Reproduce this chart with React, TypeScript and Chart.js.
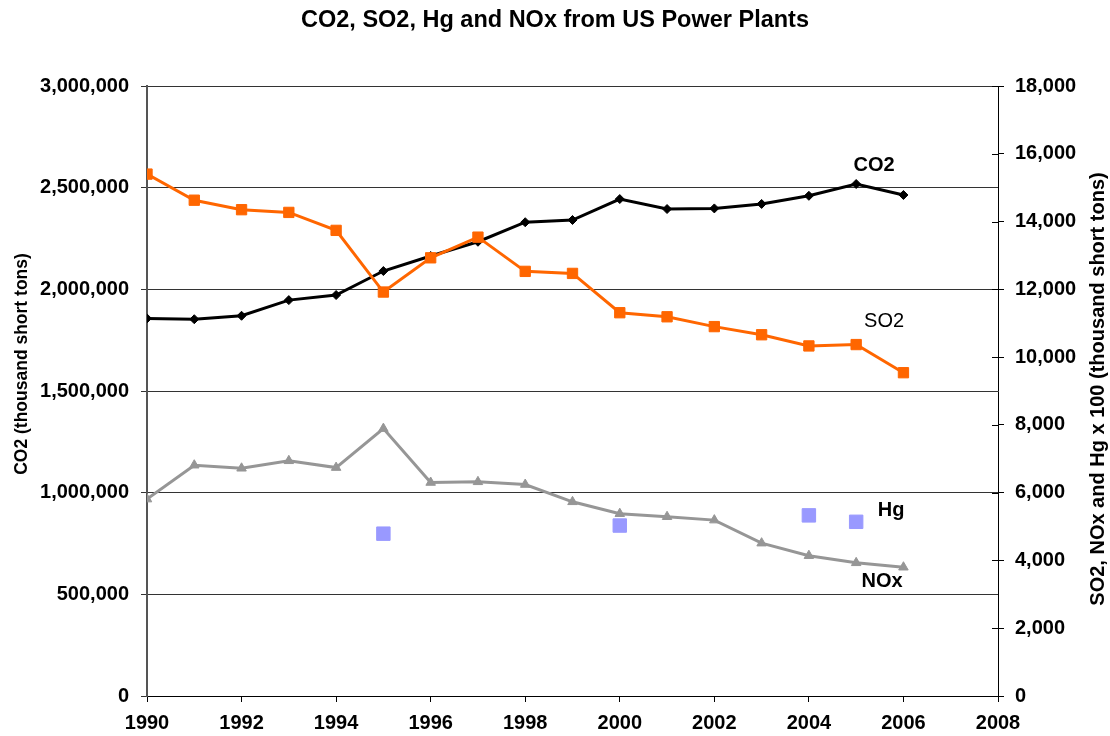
import { useEffect, useRef } from "react";
import { Chart, registerables } from "chart.js";

Chart.register(...registerables);

// ---- data ----
const years = [1990, 1991, 1992, 1993, 1994, 1995, 1996, 1997, 1998, 1999, 2000, 2001, 2002, 2003, 2004, 2005, 2006];
const co2 = [1857000, 1853000, 1870000, 1947000, 1972000, 2090000, 2164000, 2234000, 2330000, 2341000, 2444000, 2395000, 2398000, 2420000, 2460000, 2518000, 2464000];
const so2 = [15400, 14630, 14350, 14270, 13740, 11920, 12930, 13540, 12530, 12470, 11310, 11190, 10900, 10660, 10330, 10370, 9540];
const nox = [5810, 6810, 6720, 6940, 6740, 7890, 6300, 6320, 6240, 5730, 5380, 5290, 5190, 4510, 4140, 3930, 3800];
const hgYears = [1995, 2000, 2004, 2005];
const hg = [4790, 5030, 5330, 5140];

const chartTitle = "CO2, SO2, Hg and NOx from US Power Plants";
const leftTitle = "CO2 (thousand short tons)";
const rightTitle = "SO2, NOx and Hg x 100 (thousand short tons)";

// series labels placed in data units: [text, x, y, axis, bold]
const seriesLabels: [string, number, number, string, boolean][] = [
  ["CO2", 2005.38, 2611000, "y", true],
  ["SO2", 2005.59, 11040, "y1", false],
  ["Hg", 2005.74, 5480, "y1", true],
  ["NOx", 2005.55, 3370, "y1", true],
];

const FONT = "'Liberation Sans', Arial, Helvetica, sans-serif";

const overlay = {
  id: "overlay",
  afterDatasetsDraw(chart: any) {
    const ctx = chart.ctx as CanvasRenderingContext2D;
    const { x, y, y1 } = chart.scales;
    ctx.save();
    // inner tick marks on the right axis
    ctx.strokeStyle = "#000";
    ctx.lineWidth = 1;
    for (const t of y1.ticks) {
      const py = Math.round(y1.getPixelForValue(t.value)) + 0.5;
      ctx.beginPath();
      ctx.moveTo(y1.left - 6, py);
      ctx.lineTo(y1.left, py);
      ctx.stroke();
    }
    // series labels
    ctx.fillStyle = "#000";
    ctx.textAlign = "center";
    ctx.textBaseline = "middle";
    for (const [text, vx, vy, axis, bold] of seriesLabels) {
      const sc = axis === "y" ? y : y1;
      ctx.font = `${bold ? "bold " : ""}20px ${FONT}`;
      ctx.fillText(text, x.getPixelForValue(vx), sc.getPixelForValue(vy));
    }
    // axis titles (both read bottom to top)
    ctx.font = `bold 17.5px ${FONT}`;
    ctx.save();
    ctx.translate(22, 364);
    ctx.rotate(-Math.PI / 2);
    ctx.fillText(leftTitle, 0, 0);
    ctx.restore();
    ctx.font = `bold 20px ${FONT}`;
    ctx.save();
    ctx.translate(1098, 389);
    ctx.rotate(-Math.PI / 2);
    ctx.fillText(rightTitle, 0, 0);
    ctx.restore();
    ctx.restore();
  },
};

export default function App() {
  const ref = useRef<HTMLCanvasElement>(null);
  useEffect(() => {
    const canvas = ref.current!;
    Chart.defaults.font.family = FONT;
    const tickFont = { family: FONT, size: 20, weight: "bold" as const };
    const chart = new Chart(canvas, {
      type: "line",
      data: {
        datasets: [
          {
            label: "CO2",
            data: years.map((yr, i) => ({ x: yr, y: co2[i] })),
            yAxisID: "y",
            borderColor: "#000000",
            backgroundColor: "#000000",
            borderWidth: 3,
            pointStyle: "rectRot",
            pointRadius: 4.5,
            pointBorderWidth: 1,
            order: 4,
          },
          {
            label: "SO2",
            data: years.map((yr, i) => ({ x: yr, y: so2[i] })),
            yAxisID: "y1",
            borderColor: "#FF6600",
            backgroundColor: "#FF6600",
            borderWidth: 3,
            pointStyle: "rect",
            pointRadius: 7.3,
            pointBorderWidth: 1,
            order: 3,
          },
          {
            label: "NOx",
            data: years.map((yr, i) => ({ x: yr, y: nox[i] })),
            yAxisID: "y1",
            borderColor: "#969696",
            backgroundColor: "#969696",
            borderWidth: 3,
            pointStyle: "triangle",
            pointRadius: 5.5,
            pointBorderWidth: 1,
            order: 2,
          },
          {
            label: "Hg",
            data: hgYears.map((yr, i) => ({ x: yr, y: hg[i] })),
            yAxisID: "y1",
            showLine: false,
            borderColor: "#9999FF",
            backgroundColor: "#9999FF",
            pointStyle: "rect",
            pointRadius: 9.5,
            pointBorderWidth: 1,
            order: 1,
          },
        ],
      },
      options: {
        responsive: false,
        animation: false,
        layout: { padding: 0 },
        plugins: {
          legend: { display: false },
          tooltip: { enabled: false },
          title: {
            display: true,
            text: chartTitle,
            color: "#000",
            font: { family: FONT, size: 23.5, weight: "bold" },
            padding: { top: 6, bottom: 51.8 },
          },
        },
        scales: {
          x: {
            type: "linear",
            min: 1990,
            max: 2008,
            ticks: {
              stepSize: 2,
              color: "#000",
              font: tickFont,
              padding: 9,
              maxRotation: 0,
              callback: (v: any) => String(v),
            },
            grid: { drawOnChartArea: false, color: "#000", tickLength: 6 },
            border: { color: "#000", width: 1 },
            afterFit: (s: any) => {
              s.height = 40;
            },
          },
          y: {
            type: "linear",
            position: "left",
            min: 0,
            max: 3000000,
            ticks: {
              stepSize: 500000,
              color: "#000",
              font: tickFont,
              padding: 12,
              callback: (v: any) => Number(v).toLocaleString("en-US"),
            },
            grid: { color: "#333", lineWidth: 1, tickLength: 6 },
            border: { color: "#555", width: 2 },
            afterFit: (s: any) => {
              s.width = 147;
            },
          },
          y1: {
            type: "linear",
            position: "right",
            min: 0,
            max: 18000,
            ticks: {
              stepSize: 2000,
              color: "#000",
              font: tickFont,
              padding: 11,
              callback: (v: any) => Number(v).toLocaleString("en-US"),
            },
            grid: { drawOnChartArea: false, color: "#000", tickLength: 6 },
            border: { color: "#000", width: 1 },
            afterFit: (s: any) => {
              s.width = 112;
            },
          },
        },
      },
      plugins: [overlay],
    });
    return () => chart.destroy();
  }, []);
  return (
    <div style={{ position: "fixed", left: 0, top: 0, width: 1110, height: 736, background: "#fff" }}>
      <canvas ref={ref} width={1110} height={736} style={{ display: "block", width: 1110, height: 736 }} />
    </div>
  );
}
